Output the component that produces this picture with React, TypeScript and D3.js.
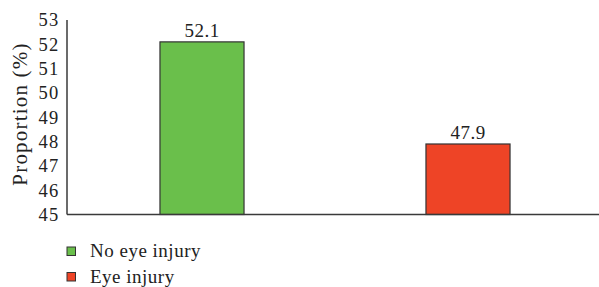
import React, { FC } from 'react';
import * as d3 from 'd3';

// chart data
const categories: string[] = ['No eye injury', 'Eye injury'];
const proportions: number[] = [52.1, 47.9];
const colors: string[] = ['#6abf4b', '#ee4426'];
const yTicks: number[] = [45, 46, 47, 48, 49, 50, 51, 52, 53];

const width = 599;
const height = 287;
const margin = { left: 67, top: 20, right: 0, bottom: 73 };
const font = "'Liberation Serif', 'DejaVu Serif', serif";

const App: FC = () => {
  const x = d3
    .scaleBand()
    .domain(categories)
    .range([69, 601])
    .paddingInner(0.684)
    .paddingOuter(0.342);
  const y = d3
    .scaleLinear()
    .domain([45, 53])
    .range([height - margin.bottom + 0.5, margin.top]);

  const axisColor = '#3a3a3a';
  const textStyle = { fontFamily: font, fontSize: '19px', letterSpacing: '0.5px' };
  const tickStyle = { fontFamily: font, fontSize: '18.5px', letterSpacing: '1.3px' };

  return (
    <svg
      width={width}
      height={height}
      style={{ position: 'absolute', left: 0, top: 0 }}
    >
      {/* bars */}
      {categories.map((c, i) => (
        <g key={c}>
          <rect
            x={x(c)}
            y={y(proportions[i])}
            width={x.bandwidth()}
            height={y(45) - y(proportions[i])}
            fill={colors[i]}
            stroke="#333"
            strokeWidth={1.2}
          />
          <text
            x={(x(c) as number) + x.bandwidth() / 2}
            y={y(proportions[i]) - 5}
            textAnchor="middle"
            style={textStyle}
            fill="#222"
          >
            {proportions[i]}
          </text>
        </g>
      ))}

      {/* axes */}
      <line
        x1={margin.left}
        x2={margin.left}
        y1={margin.top}
        y2={y(45)}
        stroke={axisColor}
        strokeWidth={1.5}
      />
      <line
        x1={margin.left}
        x2={width}
        y1={y(45)}
        y2={y(45)}
        stroke={axisColor}
        strokeWidth={1.5}
      />
      {yTicks.map((t) => (
        <text
          key={t}
          x={59.5}
          y={y(t)}
          dy="0.35em"
          textAnchor="end"
          style={tickStyle}
          fill="#222"
        >
          {t}
        </text>
      ))}
      <text
        transform={`translate(27, 114) rotate(-90)`}
        textAnchor="middle"
        style={{ fontFamily: font, fontSize: '21px', letterSpacing: '1.2px' }}
        fill="#222"
      >
        Proportion (%)
      </text>

      {/* legend */}
      {categories.map((c, i) => (
        <g key={c} transform={`translate(67, ${247 + i * 25.5})`}>
          <rect width={8.5} height={8.5} fill={colors[i]} stroke="#333" strokeWidth={1} />
          <text x={23} y={10} style={textStyle} fill="#222">
            {c}
          </text>
        </g>
      ))}
    </svg>
  );
};

export default App;
